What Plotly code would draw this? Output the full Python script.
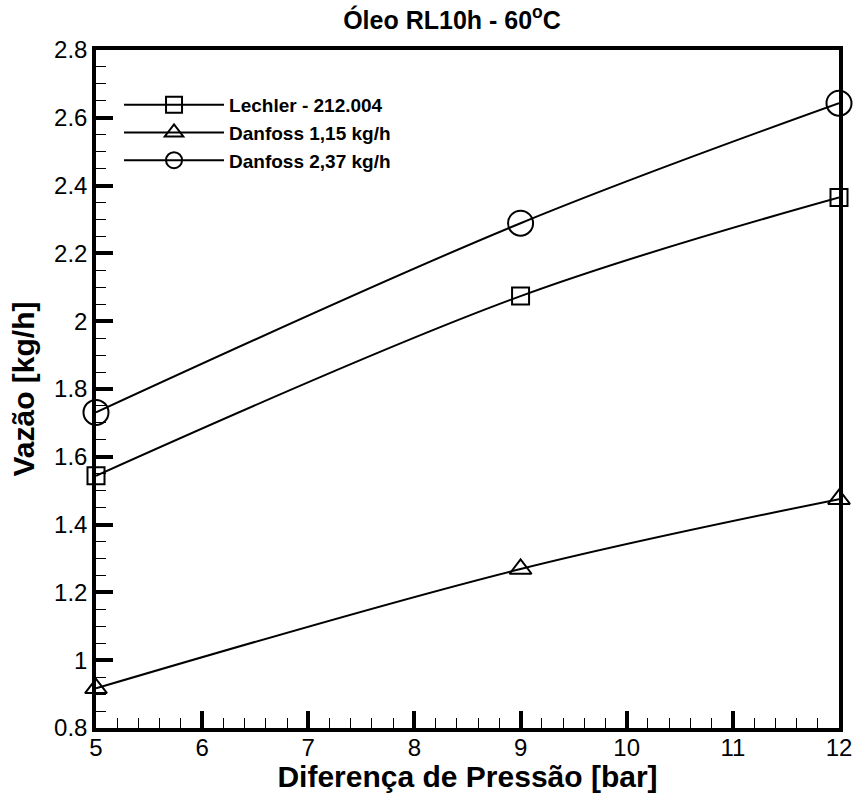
import plotly.graph_objects as go

# ---- data ----
pressao = [5, 9, 12]
lechler = [1.544, 2.074, 2.365]
danfoss_115 = [0.917, 1.269, 1.475]
danfoss_237 = [1.731, 2.289, 2.643]

series_names = ["Lechler - 212.004", "Danfoss 1,15 kg/h", "Danfoss 2,37 kg/h"]
series_symbols = ["square-open", "triangle-up-open", "circle-open"]
series_sizes = [17, 19, 25]

x_ticks = [5, 6, 7, 8, 9, 10, 11, 12]
x_ticklabels = ["5", "6", "7", "8", "9", "10", "11", "12"]
y_ticks = [0.8, 1.0, 1.2, 1.4, 1.6, 1.8, 2.0, 2.2, 2.4, 2.6, 2.8]
y_ticklabels = ["0.8", "1", "1.2", "1.4", "1.6", "1.8", "2", "2.2", "2.4", "2.6", "2.8"]

title_text = "Óleo RL10h - 60<sup>o</sup>C"
x_title = "Diferença de Pressão [bar]"
y_title = "Vazão [kg/h]"

FONT = "Liberation Sans, Arial, sans-serif"

fig = go.Figure()
for name, ys, sym, sz in zip(series_names, [lechler, danfoss_115, danfoss_237],
                             series_symbols, series_sizes):
    fig.add_trace(go.Scatter(
        x=pressao, y=ys, name=name, mode="lines+markers",
        line=dict(color="black", width=2, shape="spline", smoothing=1),
        marker=dict(symbol=sym, size=sz, color="black", line=dict(width=2, color="black")),
        cliponaxis=False,
    ))

fig.update_layout(
    width=857, height=793,
    margin=dict(l=96, r=18, t=50, b=65),
    paper_bgcolor="white", plot_bgcolor="white",
    font=dict(family=FONT, color="black"),
    title=dict(text=title_text, x=452 / 857, xanchor="center", xref="container",
               y=1 - 20 / 793, yanchor="middle", yref="container",
               font=dict(size=25, weight="bold", family=FONT, color="black")),
    showlegend=True,
    legend=dict(x=0.031, y=0.947, xanchor="left", yanchor="top",
                bgcolor="rgba(0,0,0,0)", borderwidth=0,
                font=dict(size=19, weight="bold", family=FONT, color="black"),
                itemwidth=100, itemsizing="trace", tracegroupgap=0),
)

fig.update_xaxes(
    range=[5, 12], tickvals=x_ticks, ticktext=x_ticklabels,
    showgrid=False, zeroline=False,
    showline=True, linecolor="black", linewidth=3.5, mirror=True,
    ticks="inside", ticklen=17, tickwidth=3.5, tickcolor="black",
    minor=dict(dtick=0.2, ticks="inside", ticklen=10, tickwidth=1, tickcolor="black", showgrid=False),
    tickfont=dict(size=24, family=FONT, color="black"),
    ticklabelstandoff=-5,
    title=dict(text=x_title, font=dict(size=30, weight="bold", family=FONT, color="black"), standoff=6),
    automargin=False,
)
fig.update_yaxes(
    range=[0.8, 2.8], tickvals=y_ticks, ticktext=y_ticklabels,
    showgrid=False, zeroline=False,
    showline=True, linecolor="black", linewidth=3.5, mirror=True,
    ticks="inside", ticklen=17, tickwidth=3.5, tickcolor="black",
    minor=dict(dtick=0.05, ticks="inside", ticklen=10, tickwidth=1, tickcolor="black", showgrid=False),
    tickfont=dict(size=24, family=FONT, color="black"),
    title=dict(text=y_title, font=dict(size=30, weight="bold", family=FONT, color="black"), standoff=12),
    automargin=False,
)

fig.write_html("out.html", config={"displayModeBar": False},
               post_script="document.body.style.margin='0';")
